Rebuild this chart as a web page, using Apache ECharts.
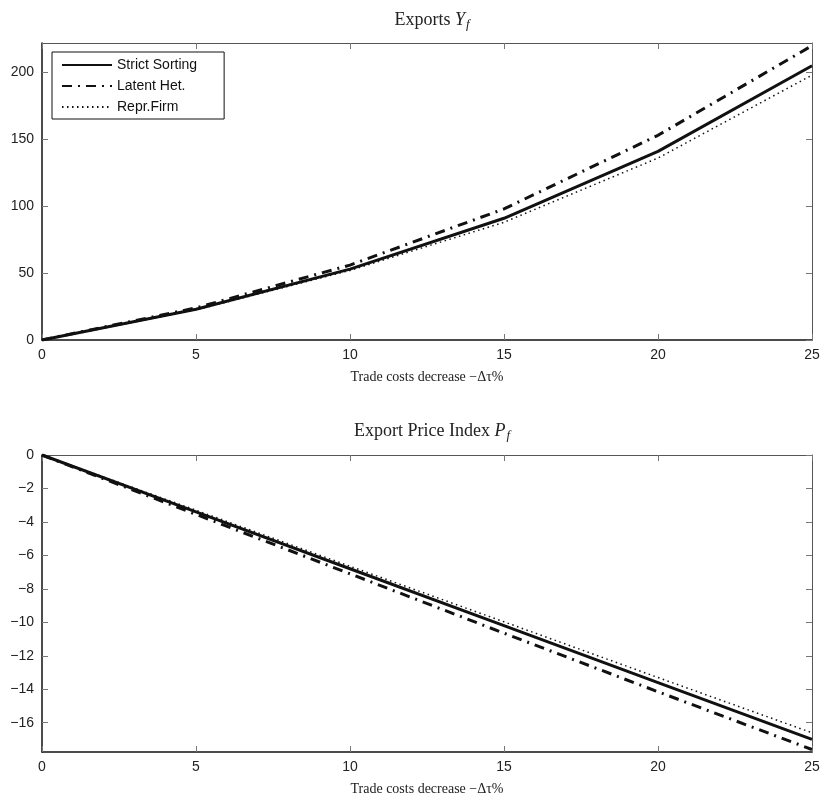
<!DOCTYPE html>
<html>
<head>
<meta charset="utf-8">
<script src="https://cdn.jsdelivr.net/npm/echarts@6/dist/echarts.min.js"></script>
<style>
html,body{margin:0;padding:0;background:#fff;}
#c{width:823px;height:795px;}
</style>
</head>
<body>
<div id="c"></div>
<script>
// ---- data ----
const xValues = [0, 5, 10, 15, 20, 25];
const seriesNames = ['Strict Sorting', 'Latent Het.', 'Repr.Firm'];
// Exports Y_f
const exportsStrict = [0, 23, 53, 91, 141, 205];
const exportsLatent = [0, 24, 56, 98, 153, 220];
const exportsRepr   = [0, 22.5, 52, 88, 136, 198];
// Export Price Index P_f
const priceStrict = [0, -3.4, -6.8, -10.2, -13.6, -17.0];
const priceLatent = [0, -3.55, -7.1, -10.65, -14.15, -17.6];
const priceRepr   = [0, -3.3, -6.65, -9.97, -13.3, -16.6];
const xTicks = [0, 5, 10, 15, 20, 25];
const topYTicks = [0, 50, 100, 150, 200];
const bottomYTicks = [-16, -14, -12, -10, -8, -6, -4, -2, 0];

const pairs = (ys) => xValues.map((x, i) => [x, ys[i]]);

const labelFont = 'Liberation Sans';
const serif = 'Liberation Serif';
const styles = [
  { width: 3, type: 'solid' },
  { width: 3, type: [10, 6, 2, 6] },
  { width: 1.5, type: [1.5, 3.5] }
];

function mkSeries(name, data, xi, yi, s) {
  return {
    name: name, type: 'line', data: data, xAxisIndex: xi, yAxisIndex: yi,
    symbol: 'none', showSymbol: false, smooth: false, animation: false,
    lineStyle: { color: '#111', width: s.width, type: s.type },
    itemStyle: { color: '#111' }
  };
}

const gridTop = [43, 455];
const gridH = 297;
const yRanges = [[0, 222], [-17.75, 0]];
const yTickSets = [topYTicks, bottomYTicks];

const xAxes = [], yAxes = [];
const fmt = (v) => (v < 0 ? '\u2212' + Math.abs(v) : String(v));
for (let g = 0; g < 2; g++) {
  xAxes.push({
    type: 'value', gridIndex: g, min: 0, max: 25, position: 'bottom',
    axisLine: { show: true, onZero: false, lineStyle: { color: '#111', width: 1.5 } },
    axisTick: { show: true, inside: true, length: 6, customValues: xTicks, lineStyle: { color: '#777' } },
    axisLabel: { color: '#222', fontFamily: labelFont, fontSize: 14, margin: 8, customValues: xTicks },
    splitLine: { show: false },
    name: 'Trade costs decrease \u2212\u0394\u03c4%', nameLocation: 'middle', nameGap: 30,
    nameTextStyle: { fontFamily: serif, fontSize: 14, color: '#222' }
  });
  xAxes.push({
    type: 'value', gridIndex: g, min: 0, max: 25, position: 'top',
    axisLine: { show: true, onZero: false, lineStyle: { color: '#555', width: 1 } },
    axisTick: { show: true, inside: true, length: 6, customValues: xTicks, lineStyle: { color: '#777' } },
    axisLabel: { show: false }, splitLine: { show: false }
  });
  const r = yRanges[g];
  const tv = yTickSets[g];
  yAxes.push({
    type: 'value', gridIndex: g, min: r[0], max: r[1], position: 'left',
    axisLine: { show: true, onZero: false, lineStyle: { color: '#111', width: 1.5 } },
    axisTick: { show: true, inside: true, length: 6, customValues: tv, lineStyle: { color: '#777' } },
    axisLabel: { color: '#222', fontFamily: labelFont, fontSize: 14, margin: 8, customValues: tv, formatter: fmt },
    splitLine: { show: false }
  });
  yAxes.push({
    type: 'value', gridIndex: g, min: r[0], max: r[1], position: 'right',
    axisLine: { show: true, onZero: false, lineStyle: { color: '#555', width: 1 } },
    axisTick: { show: true, inside: true, length: 6, customValues: tv, lineStyle: { color: '#777' } },
    axisLabel: { show: false }, splitLine: { show: false }
  });
}

const titleRich = {
  n: { fontFamily: serif, fontSize: 18, fontWeight: 'normal', color: '#222' },
  m: { fontFamily: serif, fontSize: 18, fontWeight: 'normal', fontStyle: 'italic', color: '#222' },
  s: { fontFamily: serif, fontSize: 13, fontWeight: 'normal', fontStyle: 'italic', color: '#222', padding: [9, 0, 0, 1] }
};

const option = {
  animation: false,
  backgroundColor: '#fff',
  title: [
    { text: '{n|Exports }{m|Y}{s|f}', left: 427, top: 4, textAlign: 'center',
      textStyle: { fontWeight: 'normal', rich: titleRich } },
    { text: '{n|Export Price Index }{m|P}{s|f}', left: 427, top: 415, textAlign: 'center',
      textStyle: { fontWeight: 'normal', rich: titleRich } }
  ],
  legend: {
    data: seriesNames, orient: 'vertical', left: 52, top: 52,
    itemWidth: 50, itemHeight: 14, itemGap: 7,
    borderColor: '#111', borderWidth: 1, padding: [6, 27, 5, 9],
    textStyle: { fontFamily: labelFont, fontSize: 14, color: '#111' },
    itemStyle: { color: 'rgba(0,0,0,0)', borderWidth: 0, opacity: 0 },
    backgroundColor: '#fff'
  },
  grid: [
    { left: 42, width: 770, top: gridTop[0], height: gridH, outerBoundsMode: 'none', containLabel: false },
    { left: 42, width: 770, top: gridTop[1], height: gridH, outerBoundsMode: 'none', containLabel: false }
  ],
  xAxis: xAxes,
  yAxis: yAxes,
  series: [
    mkSeries(seriesNames[0], pairs(exportsStrict), 0, 0, styles[0]),
    mkSeries(seriesNames[1], pairs(exportsLatent), 0, 0, styles[1]),
    mkSeries(seriesNames[2], pairs(exportsRepr), 0, 0, styles[2]),
    mkSeries(seriesNames[0], pairs(priceStrict), 2, 2, styles[0]),
    mkSeries(seriesNames[1], pairs(priceLatent), 2, 2, styles[1]),
    mkSeries(seriesNames[2], pairs(priceRepr), 2, 2, styles[2])
  ]
};

const chart = echarts.init(document.getElementById('c'), null, { renderer: 'canvas' });
chart.setOption(option);
</script>
</body>
</html>
